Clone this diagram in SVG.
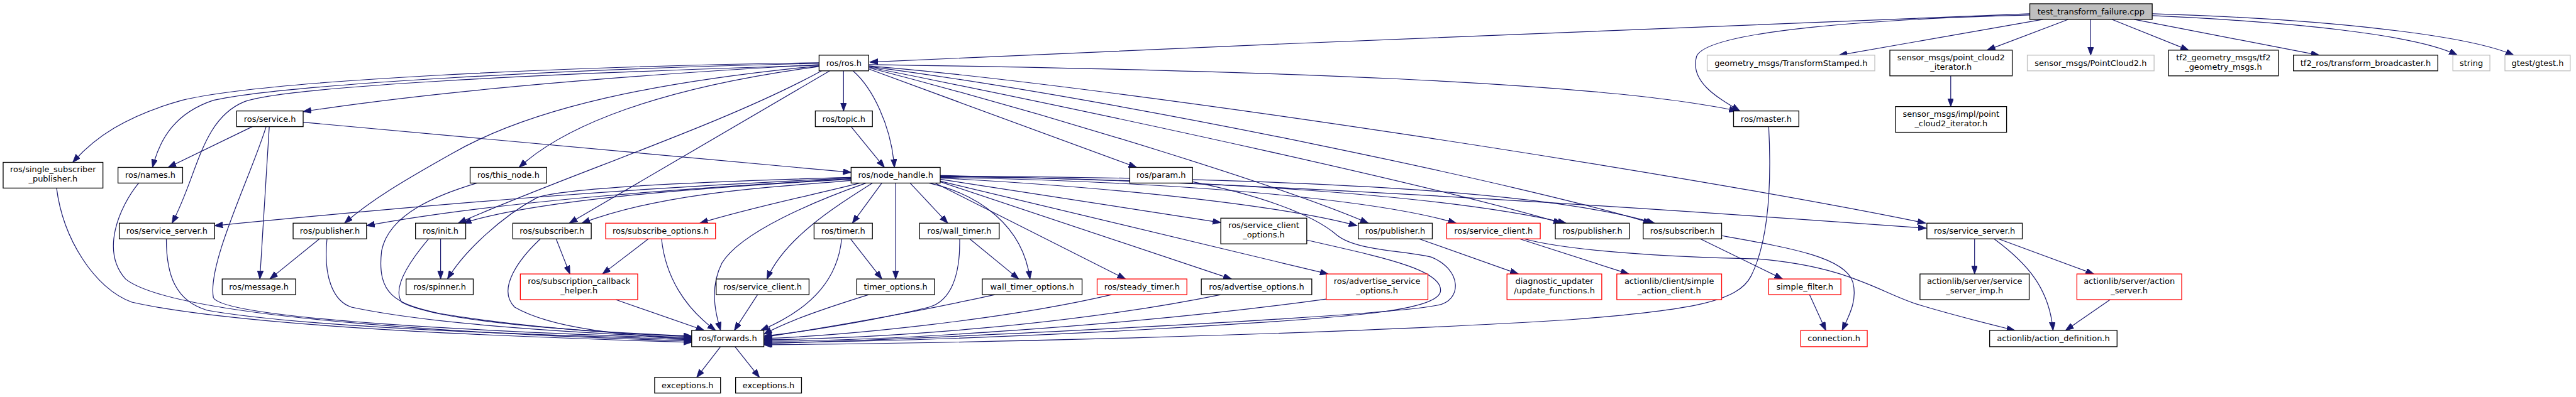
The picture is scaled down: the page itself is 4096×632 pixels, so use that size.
<svg xmlns="http://www.w3.org/2000/svg" width="4096" height="632" viewBox="0 0 4096 632">
<style>
.n rect{fill:#fff;stroke:#000;stroke-width:1.3}
.r rect{fill:#fff;stroke:#ff0000;stroke-width:1.3}
.g rect{fill:#fff;stroke:#bfbfbf;stroke-width:1.3}
.root rect{fill:#bfbfbf;stroke:#000;stroke-width:1.3}
text{font-family:"DejaVu Sans","Liberation Sans",sans-serif;font-size:13px;text-anchor:middle;fill:#000}
#edges path{fill:none;stroke:#191970;stroke-width:1.2;marker-end:url(#a)}
</style>
<defs>
<marker id="a" markerUnits="userSpaceOnUse" markerWidth="14" markerHeight="10" refX="13" refY="4.7" orient="auto"><path d="M0,0 L13,4.7 L0,9.4 z" fill="#191970" stroke="#191970" stroke-width="1"/></marker>
</defs>
<rect width="4096" height="632" fill="#fff"/>
<g transform="scale(0.998)">
<g id="edges">
<path d="M3234,22 C2800,40 2000,70 1386,99"/>
<path d="M3234,24 C3000,30 2720,48 2703,90 C2692,130 2735,155 2772,177"/>
<path d="M3255,31 L2930,88"/>
<path d="M3295,31 L3166,80"/>
<path d="M3331,31 L3331,88"/>
<path d="M3365,31 L3487,80"/>
<path d="M3400,31 L3695,88"/>
<path d="M3429,25 C3650,35 3850,55 3915,88"/>
<path d="M3429,22 C3700,30 3930,55 4005,88"/>
<path d="M3108,121 L3108,170"/>
<path d="M1305,103 C1000,120 700,145 483,178"/>
<path d="M1305,100 C900,106 420,128 290,160 C200,185 150,220 116,259"/>
<path d="M1305,101 C900,110 450,135 340,160 C280,180 255,220 243,267"/>
<path d="M1305,104 C850,118 460,138 390,162 C320,190 315,280 274,356"/>
<path d="M1305,105 C1050,130 850,170 720,245 C640,290 590,320 549,356"/>
<path d="M1305,106 C1050,140 900,200 827,267"/>
<path d="M1309,113 C1150,200 900,280 730,356"/>
<path d="M1322,113 L907,356"/>
<path d="M1344,113 L1344,177"/>
<path d="M1359,113 C1390,140 1420,200 1425,267"/>
<path d="M1384,103 C2000,112 2550,130 2768,177"/>
<path d="M1384,105 C1800,140 2700,280 3068,356"/>
<path d="M1384,106 C1800,160 2450,300 2631,356"/>
<path d="M1384,107 C1800,190 2300,300 2488,356"/>
<path d="M1384,108 C1700,190 2050,300 2180,356"/>
<path d="M1384,110 L1811,267"/>
<path d="M402,202 L268,267"/>
<path d="M424,202 C400,280 330,420 340,475 C360,510 800,530 1102,540"/>
<path d="M429,202 L414,445"/>
<path d="M483,195 L1356,275"/>
<path d="M90,299 C100,380 150,460 210,482 C400,525 900,540 1102,546"/>
<path d="M221,292 C190,330 160,400 200,445 C280,510 800,535 1102,544"/>
<path d="M265,381 C265,440 280,480 330,495 C500,525 900,535 1102,542"/>
<path d="M521,381 C515,440 530,480 560,490 C700,520 950,532 1102,539"/>
<path d="M509,381 L430,445"/>
<path d="M760,292 C700,310 620,340 608,400 C600,470 630,485 700,500 C850,525 1000,533 1102,537"/>
<path d="M683,381 C650,420 625,460 640,482 C700,515 950,530 1102,536"/>
<path d="M702,381 L702,445"/>
<path d="M861,381 C830,410 790,460 820,490 C880,525 1000,535 1102,541"/>
<path d="M886,381 L908,437"/>
<path d="M1033,381 L960,437"/>
<path d="M1054,381 C1060,440 1090,490 1140,527"/>
<path d="M981,478 L1122,527"/>
<path d="M1207,470 L1170,527"/>
<path d="M1341,381 C1335,440 1300,490 1212,527"/>
<path d="M1355,381 L1405,445"/>
<path d="M1384,470 C1320,490 1260,510 1217,533"/>
<path d="M1545,381 L1623,445"/>
<path d="M1529,381 C1530,440 1515,480 1480,490 C1400,510 1280,530 1217,536"/>
<path d="M1585,470 C1450,500 1300,525 1217,538"/>
<path d="M1771,470 C1600,510 1350,535 1217,540"/>
<path d="M1945,470 C1700,520 1400,540 1217,542"/>
<path d="M2113,477 C1800,520 1400,545 1217,544"/>
<path d="M2082,383 C2200,410 2300,430 2295,465 C2290,495 2150,505 2000,515 C1700,535 1400,546 1217,546"/>
<path d="M1900,290 C2000,310 2090,340 2130,375 C2160,400 2240,400 2280,410 C2330,430 2330,480 2290,487 C2200,505 1500,540 1217,548"/>
<path d="M2818,202 C2822,280 2820,380 2790,440 C2770,480 2700,495 2500,510 C2100,535 1500,548 1217,550"/>
<path d="M2261,381 L2419,437"/>
<path d="M2421,381 L2595,437"/>
<path d="M2428,381 C2500,400 2650,410 2800,413 C2950,425 3000,470 3060,487 C3120,505 3170,517 3210,527"/>
<path d="M2709,381 L2840,445"/>
<path d="M2743,376 C2850,395 2940,410 2952,450 C2960,480 2945,505 2935,527"/>
<path d="M2883,470 L2909,527"/>
<path d="M3146,381 L3146,437"/>
<path d="M3177,381 C3230,420 3265,460 3271,527"/>
<path d="M3184,381 L3336,437"/>
<path d="M3362,478 L3291,527"/>
<path d="M1148,553 L1110,602"/>
<path d="M1171,553 L1210,602"/>
<path d="M1356,202 L1409,267"/>
<path d="M1356,284 C1000,300 700,325 342,360"/>
<path d="M1356,285 C1100,300 800,320 584,360"/>
<path d="M1356,286 C1100,300 850,320 738,356"/>
<path d="M1356,283 C1100,290 900,300 856,315 C800,345 740,400 713,445"/>
<path d="M1356,288 C1200,300 1050,310 927,356"/>
<path d="M1370,292 C1300,310 1200,330 1115,356"/>
<path d="M1380,292 C1300,320 1180,370 1150,420 C1130,460 1140,500 1148,527"/>
<path d="M1390,292 C1330,330 1250,380 1222,445"/>
<path d="M1405,292 L1358,356"/>
<path d="M1427,292 L1427,445"/>
<path d="M1450,292 L1510,356"/>
<path d="M1480,292 C1560,310 1630,360 1641,445"/>
<path d="M1490,292 L1793,445"/>
<path d="M1498,290 L1962,445"/>
<path d="M1498,289 L2116,437"/>
<path d="M1498,286 L1945,355"/>
<path d="M1498,284 C1800,300 2050,330 2162,360"/>
<path d="M1498,283 C1900,290 2200,320 2320,356"/>
<path d="M1498,282 C1900,285 2300,310 2495,356"/>
<path d="M1498,281 C2000,283 2450,300 2636,356"/>
<path d="M1498,280 C2000,290 2600,330 3069,364"/>
</g>
<g id="n_root" class="root"><rect x="3234" y="6" width="195" height="25"/><text x="3331.5" y="23">test_transform_failure.cpp</text></g>
<g id="n_ros" class="n"><rect x="1305" y="88" width="79" height="25"/><text x="1344.5" y="105">ros/ros.h</text></g>
<g id="n_geom" class="g"><rect x="2720" y="88" width="267" height="25"/><text x="2853.5" y="105">geometry_msgs/TransformStamped.h</text></g>
<g id="n_pc2it" class="n"><rect x="3011" y="80" width="195" height="41"/><text x="3108.5" y="96">sensor_msgs/point_cloud2</text><text x="3108.5" y="111">_iterator.h</text></g>
<g id="n_pc2" class="g"><rect x="3230" y="88" width="202" height="25"/><text x="3331" y="105">sensor_msgs/PointCloud2.h</text></g>
<g id="n_tf2g" class="n"><rect x="3455" y="80" width="175" height="41"/><text x="3542.5" y="96">tf2_geometry_msgs/tf2</text><text x="3542.5" y="111">_geometry_msgs.h</text></g>
<g id="n_tfb" class="n"><rect x="3654" y="88" width="230" height="25"/><text x="3769" y="105">tf2_ros/transform_broadcaster.h</text></g>
<g id="n_string" class="g"><rect x="3908" y="88" width="59" height="25"/><text x="3937.5" y="105">string</text></g>
<g id="n_gtest" class="g"><rect x="3991" y="88" width="104" height="25"/><text x="4043" y="105">gtest/gtest.h</text></g>
<g id="n_service" class="n"><rect x="377" y="177" width="106" height="25"/><text x="430" y="194">ros/service.h</text></g>
<g id="n_topic" class="n"><rect x="1299" y="177" width="91" height="25"/><text x="1344.5" y="194">ros/topic.h</text></g>
<g id="n_master" class="n"><rect x="2762" y="177" width="104" height="25"/><text x="2814" y="194">ros/master.h</text></g>
<g id="n_pc2impl" class="n"><rect x="3020" y="170" width="177" height="41"/><text x="3108.5" y="186">sensor_msgs/impl/point</text><text x="3108.5" y="201">_cloud2_iterator.h</text></g>
<g id="n_ssp" class="n"><rect x="5" y="259" width="159" height="41"/><text x="84.5" y="275">ros/single_subscriber</text><text x="84.5" y="290">_publisher.h</text></g>
<g id="n_names" class="n"><rect x="188" y="267" width="103" height="25"/><text x="239.5" y="284">ros/names.h</text></g>
<g id="n_thisnode" class="n"><rect x="749" y="267" width="122" height="25"/><text x="810" y="284">ros/this_node.h</text></g>
<g id="n_nh" class="n"><rect x="1356" y="267" width="142" height="25"/><text x="1427" y="284">ros/node_handle.h</text></g>
<g id="n_param" class="n"><rect x="1800" y="267" width="100" height="25"/><text x="1850" y="284">ros/param.h</text></g>
<g id="n_ssL" class="n"><rect x="190" y="356" width="152" height="25"/><text x="266" y="373">ros/service_server.h</text></g>
<g id="n_pubL" class="n"><rect x="467" y="356" width="117" height="25"/><text x="525.5" y="373">ros/publisher.h</text></g>
<g id="n_init" class="n"><rect x="662" y="356" width="80" height="25"/><text x="702" y="373">ros/init.h</text></g>
<g id="n_subL" class="n"><rect x="817" y="356" width="125" height="25"/><text x="879.5" y="373">ros/subscriber.h</text></g>
<g id="n_subopt" class="r"><rect x="965" y="356" width="175" height="25"/><text x="1052.5" y="373">ros/subscribe_options.h</text></g>
<g id="n_timer" class="n"><rect x="1297" y="356" width="93" height="25"/><text x="1343.5" y="373">ros/timer.h</text></g>
<g id="n_walltimer" class="n"><rect x="1465" y="356" width="127" height="25"/><text x="1528.5" y="373">ros/wall_timer.h</text></g>
<g id="n_sco" class="n"><rect x="1945" y="348" width="137" height="41"/><text x="2013.5" y="364">ros/service_client</text><text x="2013.5" y="379">_options.h</text></g>
<g id="n_pubM" class="n"><rect x="2164" y="356" width="118" height="25"/><text x="2223" y="373">ros/publisher.h</text></g>
<g id="n_scR" class="r"><rect x="2305" y="356" width="149" height="25"/><text x="2379.5" y="373">ros/service_client.h</text></g>
<g id="n_pub3" class="n"><rect x="2478" y="356" width="118" height="25"/><text x="2537" y="373">ros/publisher.h</text></g>
<g id="n_sub2" class="n"><rect x="2618" y="356" width="125" height="25"/><text x="2680.5" y="373">ros/subscriber.h</text></g>
<g id="n_ssR" class="n"><rect x="3070" y="356" width="152" height="25"/><text x="3146" y="373">ros/service_server.h</text></g>
<g id="n_message" class="n"><rect x="354" y="445" width="117" height="25"/><text x="412.5" y="462">ros/message.h</text></g>
<g id="n_spinner" class="n"><rect x="647" y="445" width="107" height="25"/><text x="700.5" y="462">ros/spinner.h</text></g>
<g id="n_sch" class="r"><rect x="829" y="437" width="187" height="41"/><text x="922.5" y="453">ros/subscription_callback</text><text x="922.5" y="468">_helper.h</text></g>
<g id="n_sc" class="n"><rect x="1141" y="445" width="148" height="25"/><text x="1215" y="462">ros/service_client.h</text></g>
<g id="n_timeropt" class="n"><rect x="1365" y="445" width="124" height="25"/><text x="1427" y="462">timer_options.h</text></g>
<g id="n_wto" class="n"><rect x="1565" y="445" width="159" height="25"/><text x="1644.5" y="462">wall_timer_options.h</text></g>
<g id="n_steady" class="r"><rect x="1748" y="445" width="143" height="25"/><text x="1819.5" y="462">ros/steady_timer.h</text></g>
<g id="n_advopt" class="n"><rect x="1914" y="445" width="176" height="25"/><text x="2002" y="462">ros/advertise_options.h</text></g>
<g id="n_advsrv" class="r"><rect x="2113" y="437" width="162" height="41"/><text x="2194" y="453">ros/advertise_service</text><text x="2194" y="468">_options.h</text></g>
<g id="n_diag" class="r"><rect x="2401" y="437" width="151" height="41"/><text x="2476.5" y="453">diagnostic_updater</text><text x="2476.5" y="468">/update_functions.h</text></g>
<g id="n_sac" class="r"><rect x="2576" y="437" width="167" height="41"/><text x="2659.5" y="453">actionlib/client/simple</text><text x="2659.5" y="468">_action_client.h</text></g>
<g id="n_sf" class="r"><rect x="2818" y="445" width="115" height="25"/><text x="2875.5" y="462">simple_filter.h</text></g>
<g id="n_ssimp" class="n"><rect x="3059" y="437" width="174" height="41"/><text x="3146" y="453">actionlib/server/service</text><text x="3146" y="468">_server_imp.h</text></g>
<g id="n_as" class="r"><rect x="3309" y="437" width="167" height="41"/><text x="3392.5" y="453">actionlib/server/action</text><text x="3392.5" y="468">_server.h</text></g>
<g id="n_fwd" class="n"><rect x="1102" y="527" width="115" height="26"/><text x="1159.5" y="544">ros/forwards.h</text></g>
<g id="n_conn" class="r"><rect x="2869" y="527" width="106" height="26"/><text x="2922" y="544">connection.h</text></g>
<g id="n_actdef" class="n"><rect x="3170" y="527" width="203" height="26"/><text x="3271.5" y="544">actionlib/action_definition.h</text></g>
<g id="n_exc1" class="n"><rect x="1043" y="602" width="105" height="25"/><text x="1095.5" y="619">exceptions.h</text></g>
<g id="n_exc2" class="n"><rect x="1172" y="602" width="105" height="25"/><text x="1224.5" y="619">exceptions.h</text></g>
</g>
</svg>
